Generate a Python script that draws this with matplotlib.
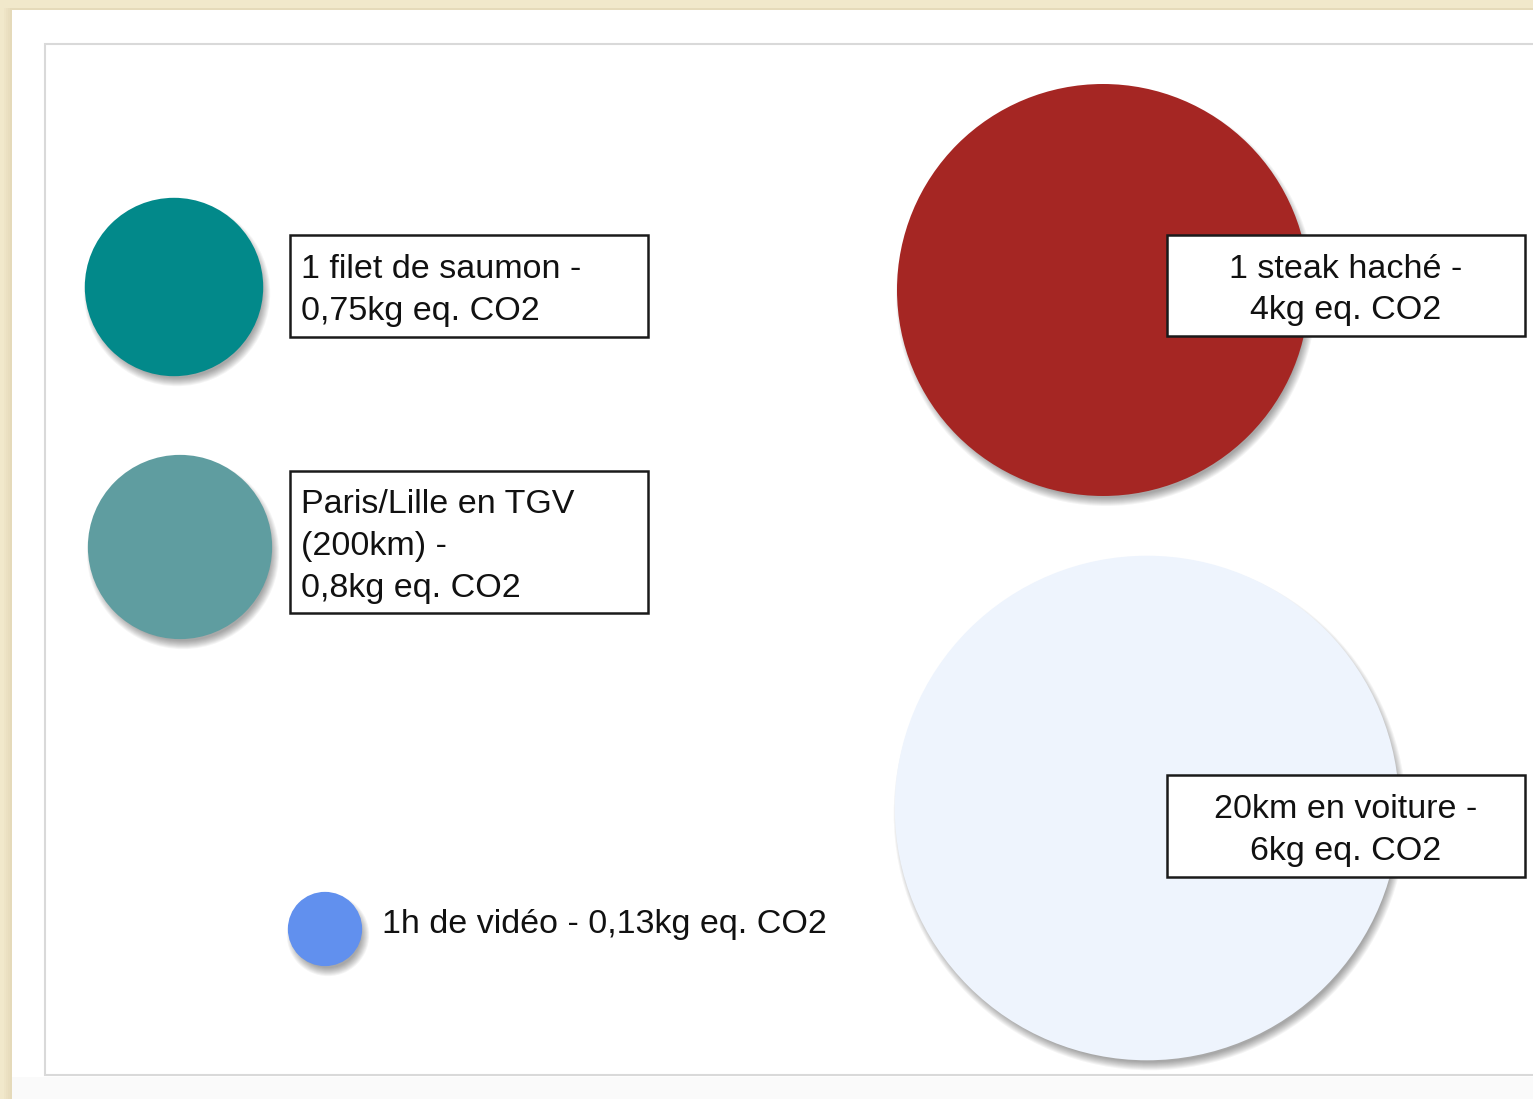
import numpy as np
import matplotlib
matplotlib.use("Agg")
import matplotlib.pyplot as plt
from matplotlib.patches import Circle, Rectangle

# ---- data ----
labels = [
    "1 filet de saumon -\n0,75kg eq. CO2",
    "Paris/Lille en TGV\n(200km) -\n0,8kg eq. CO2",
    "1h de vidéo - 0,13kg eq. CO2",
    "1 steak haché -\n4kg eq. CO2",
    "20km en voiture -\n6kg eq. CO2",
]
values = [0.75, 0.8, 0.13, 4.0, 6.0]  # kg eq. CO2

# ---- layout / style (pixel coordinates, y downward) ----
centers = [(174, 287), (180, 547), (325, 929), (1103, 290), (1147, 808)]
colors = ["#02898A", "#5F9DA0", "#6190EE", "#A52623", "#EEF4FD"]
boxes = [(290, 235, 358, 102), (290, 471, 358, 142), None,
         (1167, 235, 358, 101), (1167, 775, 358, 102)]
aligns = ["left", "left", "left", "center", "center"]
K = 103.0  # radius scale: r = K*sqrt(value)

W, H = 1533, 1099
fig = plt.figure(figsize=(W / 100, H / 100), dpi=100)
fig.patch.set_facecolor("#F1E8CB")
ax = fig.add_axes([0, 0, 1, 1])
ax.set_xlim(0, W)
ax.set_ylim(H, 0)
ax.set_aspect("equal")
ax.axis("off")

# card shadow + white card
for i in range(4):
    ax.add_patch(Rectangle((10 - i * 2, 8), W, H, facecolor="#B8A97A", alpha=0.05,
                           edgecolor="none", zorder=0))
ax.add_patch(Rectangle((12, 10), W, H, facecolor="white", edgecolor="none", zorder=1))
ax.add_patch(Rectangle((12, 1077), W, 30, facecolor="#FAFAFA", edgecolor="none", zorder=1))
# inner panel
ax.add_patch(Rectangle((45, 44), W, 1031, facecolor="white", edgecolor="#D9D9D9",
                       linewidth=1.5, zorder=2))

fam = ["Liberation Sans", "DejaVu Sans"]
FS = 24.5

for (cx, cy), v, col in zip(centers, values, colors):
    r = K * np.sqrt(v)
    # soft shadow
    for j in range(9):
        ax.add_patch(Circle((cx + 3, cy + 6), r + 4 - j, facecolor="#000000",
                            alpha=0.045, edgecolor="none", zorder=3))
    ax.add_patch(Circle((cx, cy), r, facecolor=col, edgecolor="none", zorder=4))

for lab, box, al in zip(labels, boxes, aligns):
    if box is None:
        ax.text(382, 925, lab, fontsize=FS, family=fam, ha="left", va="center",
                color="#111111", zorder=6)
        continue
    x, y, w, h = box
    ax.add_patch(Rectangle((x, y), w, h, facecolor="white", edgecolor="#1a1a1a",
                           linewidth=1.8, zorder=5))
    tx = x + 11 if al == "left" else x + w / 2
    ax.text(tx, y + h / 2 + 4.5, lab, fontsize=FS, family=fam, ha=al, va="center",
            multialignment=al, linespacing=1.45, color="#111111", zorder=6)

fig.savefig("out.png", dpi=100, facecolor=fig.get_facecolor())
